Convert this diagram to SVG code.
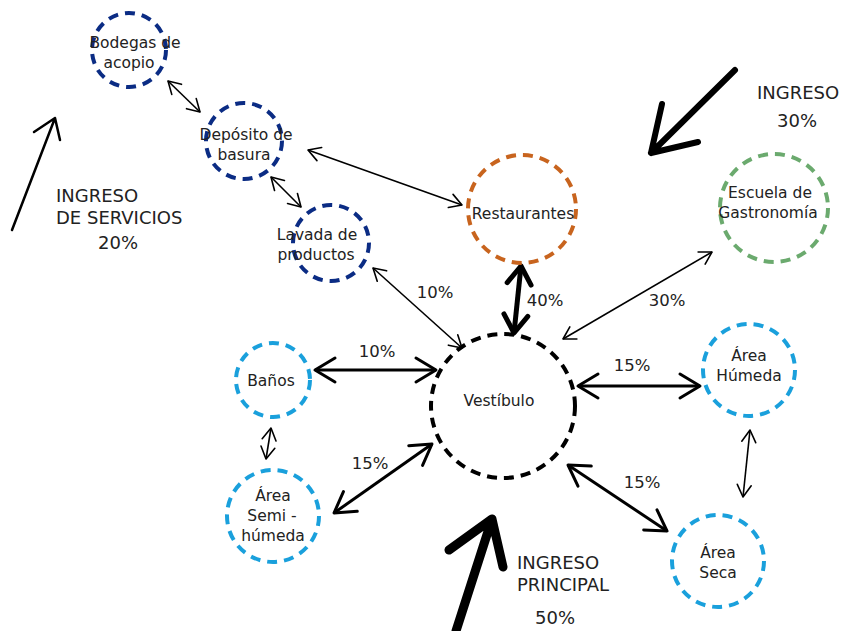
<svg xmlns="http://www.w3.org/2000/svg" width="843" height="631" viewBox="0 0 843 631">
<defs>
<marker id="ms" markerUnits="userSpaceOnUse" orient="auto-start-reverse" overflow="visible" markerWidth="1" markerHeight="1"><path d="M-12,-7 L0,0 L-12,7" fill="none" stroke="#000" stroke-width="1.6" stroke-linecap="round" stroke-linejoin="round"/></marker>
<marker id="mm" markerUnits="userSpaceOnUse" orient="auto-start-reverse" overflow="visible" markerWidth="1" markerHeight="1"><path d="M-20,-12 L0,0 L-20,12" fill="none" stroke="#000" stroke-width="3" stroke-linecap="round" stroke-linejoin="round"/></marker>
<marker id="mb" markerUnits="userSpaceOnUse" orient="auto-start-reverse" overflow="visible" markerWidth="1" markerHeight="1"><path d="M-18,-12 L0,0 L-18,12" fill="none" stroke="#000" stroke-width="5" stroke-linecap="round" stroke-linejoin="round"/></marker>
</defs>
<style>
.n{fill:none;stroke-width:4;stroke-dasharray:10 7}
.navy{stroke:#0B2C84}.org{stroke:#C8641E}.grn{stroke:#6BAA6E}.blu{stroke:#1AA0DC}.blk{stroke:#000}
text{font-family:"DejaVu Sans","Liberation Sans",sans-serif;fill:#222;text-anchor:middle}
.t{font-size:15.5px}
.b{font-size:18px;text-anchor:start}
.p{font-size:16.5px}
.c{fill:none;stroke:#000}
.s{stroke-width:1.6;marker-start:url(#ms);marker-end:url(#ms)}
.m{stroke-width:3;marker-start:url(#mm);marker-end:url(#mm)}
.k{stroke-width:5;marker-start:url(#mb);marker-end:url(#mb)}
</style>
<rect width="843" height="631" fill="#fff"/>
<g id="connectors">
<line class="c s" x1="168" y1="81" x2="200" y2="112"/>
<line class="c s" x1="271" y1="177" x2="301" y2="207"/>
<line class="c s" x1="308" y1="150" x2="462" y2="205"/>
<line class="c s" x1="373" y1="268" x2="462" y2="348"/>
<line class="c k" x1="521" y1="266" x2="514" y2="333"/>
<line class="c s" x1="712" y1="252" x2="563" y2="339"/>
<line class="c m" x1="315" y1="370" x2="436" y2="370"/>
<line class="c s" x1="271" y1="428" x2="266" y2="459"/>
<line class="c m" x1="334" y1="513" x2="432" y2="444"/>
<line class="c m" x1="578" y1="386" x2="700" y2="386"/>
<line class="c m" x1="568" y1="465" x2="667" y2="531"/>
<line class="c s" x1="750" y1="430" x2="743" y2="497"/>
</g>
<g id="labels">
<text class="p" x="435" y="298">10%</text>
<text class="p" x="545" y="306">40%</text>
<text class="p" x="667" y="306">30%</text>
<text class="p" x="377" y="357">10%</text>
<text class="p" x="370" y="469">15%</text>
<text class="p" x="632" y="371">15%</text>
<text class="p" x="642" y="488">15%</text>
</g>
<g id="ingreso-servicios">
<path d="M12,230 L55,118 M34,132 L55,118 L60,140" fill="none" stroke="#000" stroke-width="2.5" stroke-linecap="round" stroke-linejoin="round"/>
<text class="b" x="56" y="202">INGRESO</text>
<text class="b" x="56" y="224">DE SERVICIOS</text>
<text class="b" x="118" y="249" style="text-anchor:middle">20%</text>
</g>
<g id="ingreso-30">
<path d="M735,70 L651,153 M662,104 L651,153 L698,142" fill="none" stroke="#000" stroke-width="6" stroke-linecap="round" stroke-linejoin="round"/>
<text class="b" x="757" y="99">INGRESO</text>
<text class="b" x="797" y="127" style="text-anchor:middle">30%</text>
</g>
<g id="ingreso-principal">
<path d="M456,631 L492,519 M449,550 L492,519 L503,567" fill="none" stroke="#000" stroke-width="9" stroke-linecap="round" stroke-linejoin="round"/>
<text class="b" x="517" y="569">INGRESO</text>
<text class="b" x="517" y="591">PRINCIPAL</text>
<text class="b" x="555" y="624" style="text-anchor:middle">50%</text>
</g>
<g id="bodegas"><circle class="n navy" cx="129" cy="50" r="37"/><text class="t" x="135" y="48">Bodegas de</text><text class="t" x="129" y="68">acopio</text></g>
<g id="deposito"><circle class="n navy" cx="244" cy="141" r="38"/><text class="t" x="246" y="140">Depósito de</text><text class="t" x="244" y="160">basura</text></g>
<g id="lavada"><circle class="n navy" cx="331" cy="243" r="38"/><text class="t" x="317" y="240">Lavada de</text><text class="t" x="316" y="260">productos</text></g>
<g id="restaurantes"><circle class="n org" cx="522" cy="209" r="54"/><text class="t" x="523" y="219">Restaurantes</text></g>
<g id="escuela"><circle class="n grn" cx="774" cy="208" r="54"/><text class="t" x="770" y="198">Escuela de</text><text class="t" x="768" y="218">Gastronomía</text></g>
<g id="vestibulo"><circle class="n blk" cx="503" cy="406" r="72"/><text class="t" x="499" y="406">Vestíbulo</text></g>
<g id="banos"><circle class="n blu" cx="273" cy="380" r="37"/><text class="t" x="271" y="386">Baños</text></g>
<g id="semi"><circle class="n blu" cx="273" cy="516" r="46"/><text class="t" x="273" y="501">Área</text><text class="t" x="272" y="521">Semi -</text><text class="t" x="273" y="541">húmeda</text></g>
<g id="humeda"><circle class="n blu" cx="749" cy="370" r="46"/><text class="t" x="749" y="361">Área</text><text class="t" x="749" y="381">Húmeda</text></g>
<g id="seca"><circle class="n blu" cx="718" cy="561" r="46"/><text class="t" x="718" y="558">Área</text><text class="t" x="718" y="578">Seca</text></g>
</svg>
